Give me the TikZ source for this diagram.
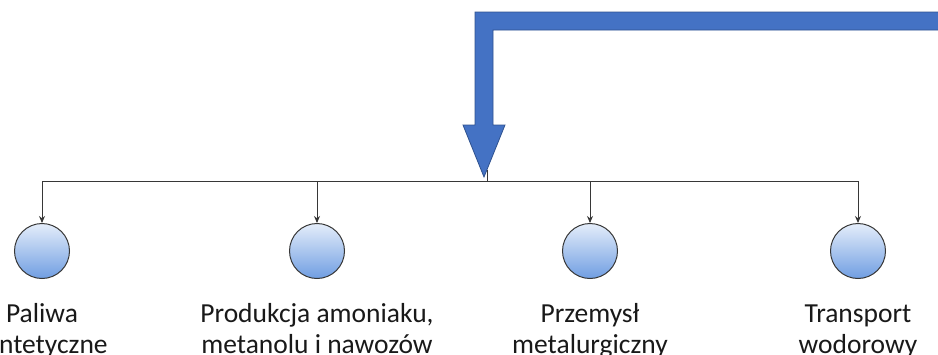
\documentclass[tikz,border=0pt]{standalone}
\usepackage{fontspec}
\setmainfont{Carlito}
\usetikzlibrary{arrows.meta}
\definecolor{arrowblue}{RGB}{68,114,196}
\definecolor{arrowedge}{RGB}{47,82,143}
\definecolor{ctop}{RGB}{228,237,250}
\definecolor{cbot}{RGB}{112,158,226}
\definecolor{lineg}{RGB}{55,55,55}
\tikzset{
  ball/.style={circle, minimum size=55pt, inner sep=0pt, draw=lineg, line width=1pt, top color=ctop, bottom color=cbot},
  label2/.style={font=\fontsize{27.5}{31}\selectfont, align=center, anchor=base, inner sep=0pt, text=black!90},
  link/.style={draw=lineg, line width=0.9pt, -{Stealth[length=7pt,width=6pt]}},
  bigarrow/.style={fill=arrowblue, draw=arrowedge, line width=0.8pt, line join=miter}
}
\begin{document}
\begin{tikzpicture}[x=1pt,y=-1pt]
\useasboundingbox (0,0) rectangle (938,354);
\clip (0,0) rectangle (938,354);
% big bent arrow
\draw[bigarrow] (945,12) -- (475,12) -- (475,125) -- (463,125) -- (484,177) -- (505,125) -- (493,125) -- (493,30) -- (945,30) -- cycle;
% circles
\node[ball] (c1) at (42,251) {};
\node[ball] (c2) at (317,251) {};
\node[ball] (c3) at (590,251) {};
\node[ball] (c4) at (858,251) {};
% hub
\coordinate (top) at (487,170);
\coordinate (hub) at (487,181);
\draw[draw=lineg, line width=0.9pt] (top) -- (hub);
\draw[link] (hub) -| (c1.north);
\draw[link] (hub) -| (c2.north);
\draw[link] (hub) -| (c3.north);
\draw[link] (hub) -| (c4.north);
% labels
\node[label2] (t1) at (42,353) {Paliwa\\syntetyczne};
\node[label2] (t2) at (317,353) {Produkcja amoniaku,\\metanolu i nawozów};
\node[label2] (t3) at (590,353) {Przemysł\\metalurgiczny};
\node[label2] (t4) at (858,353) {Transport\\wodorowy};
\end{tikzpicture}
\end{document}
